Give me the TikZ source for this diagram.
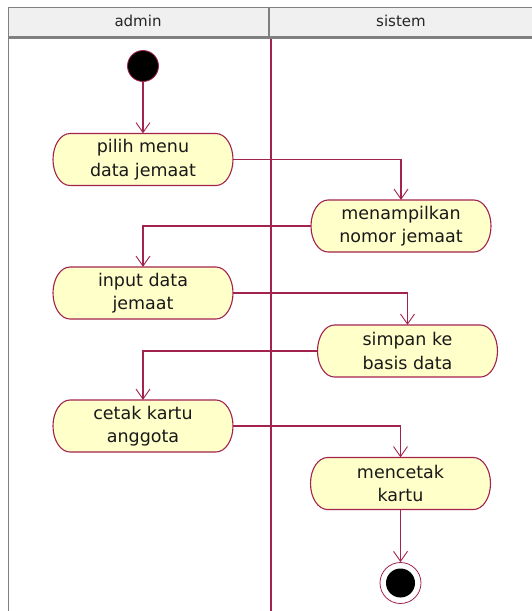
\documentclass[tikz,border=0pt]{standalone}
\usepackage{fontspec}
\setmainfont{DejaVu Sans}
\usetikzlibrary{arrows.meta}
\definecolor{umlred}{HTML}{A3234F}
\definecolor{umlfill}{HTML}{FFFFCA}
\definecolor{hdr}{HTML}{F0F0F0}
\definecolor{hdrline}{HTML}{808080}
\tikzset{
  act/.style={draw=none, minimum width=180pt, minimum height=52pt, align=center,
    font=\fontsize{17.5}{23.5}\selectfont, inner sep=0pt, text=black!90},
  actline/.style={draw=umlred, fill=umlfill, line width=1.1pt},
  flow/.style={draw=umlred, line width=1.1pt, -{Straight Barb[length=10pt,width=14pt,line width=0.9pt]}},
  hdrtext/.style={font=\fontsize{15}{18}\selectfont, text=black!85}
}
\newcommand\actbox[4]{%
  \draw[actline] (#2-73,#3-26) -- (#2+73,#3-26)
     arc[start angle=90,end angle=-90,x radius=17pt,y radius=26pt]
     -- (#2-73,#3+26)
     arc[start angle=270,end angle=90,x radius=17pt,y radius=26pt] -- cycle;
  \node[act] (#1) at (#2,#3) {#4};}
\begin{document}
\begin{tikzpicture}[x=1pt,y=-1pt]
\useasboundingbox (0,0) rectangle (532,611);
% header
\fill[hdr] (8,7) rectangle (532,36);
\draw[hdrline, line width=1pt] (8,7.5) -- (532,7.5);
\draw[hdrline, line width=2.5pt] (8,37.5) -- (532,37.5);
\draw[hdrline, line width=2.5pt] (269,7) -- (269,37);
\draw[hdrline, line width=1.5pt] (8.5,7) -- (8.5,611);
\node[hdrtext] (hadmin) at (138,21) {admin};
\node[hdrtext] (hsistem) at (401,21) {sistem};
% lane divider
\draw[umlred, line width=1.5pt] (271,39) -- (271,611);
% start
\node[circle, fill=black, draw=umlred, line width=0.8pt, minimum size=31pt, inner sep=0pt] (start) at (143,66) {};
% activities
\actbox{a1}{143}{159.5}{pilih menu\\data jemaat}
\actbox{a2}{401}{226}{menampilkan\\nomor jemaat}
\actbox{a3}{143}{293}{input data\\jemaat}
\actbox{a4}{407.5}{351}{simpan ke\\basis data}
\actbox{a5}{143}{426}{cetak kartu\\anggota}
\actbox{a6}{400.5}{483.5}{mencetak\\kartu}
% end
\node[circle, draw=umlred, fill=white, line width=0.8pt, minimum size=41pt, inner sep=0pt] (end) at (400.5,583) {};
\node[circle, fill=black, minimum size=29pt, inner sep=0pt] (endin) at (end) {};
% flows
\draw[flow] (start) -- (a1);
\draw[flow] (a1.east) -| (a2.north);
\draw[flow] (a2.west) -| (a3.north);
\draw[flow] (a3.east) -| (a4.north);
\draw[flow] (a4.west) -| (a5.north);
\draw[flow] (a5.east) -| (a6.north);
\draw[flow] (a6) -- (end);
\end{tikzpicture}
\end{document}
